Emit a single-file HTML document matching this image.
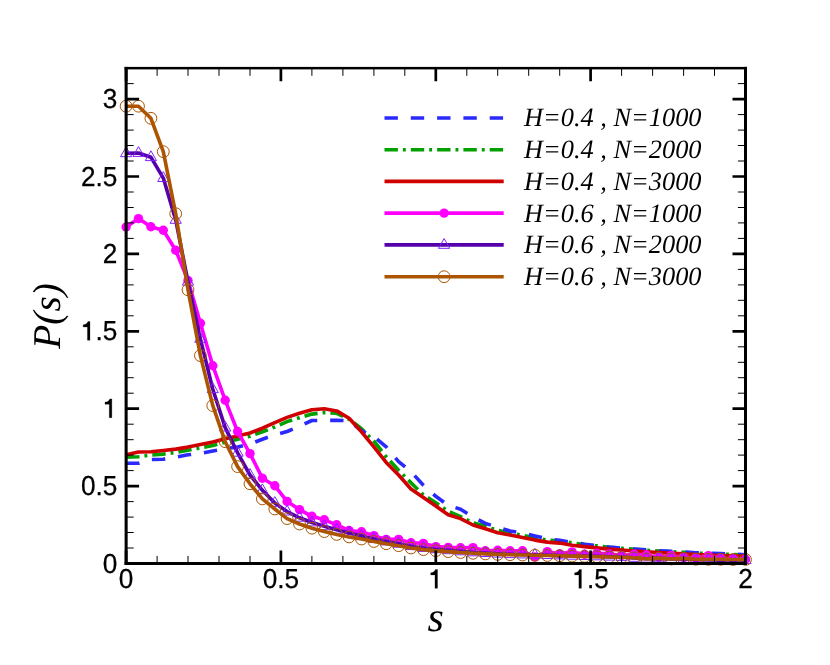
<!DOCTYPE html>
<html><head><meta charset="utf-8"><title>P(s)</title>
<style>html,body{margin:0;padding:0;background:#fff;}body{width:830px;height:665px;overflow:hidden;}svg{display:block;will-change:transform;}text{text-rendering:geometricPrecision;}.t{font-family:"Liberation Sans",sans-serif;font-size:26.2px;fill:#000;stroke:#000;stroke-width:0.25px;}.l{font-family:"Liberation Serif",serif;font-style:italic;font-size:26.5px;fill:#000;}.a{font-family:"Liberation Serif",serif;font-style:italic;font-size:39.3px;fill:#000;}</style></head><body>
<svg width="830" height="665" viewBox="0 0 830 665">
<rect x="0" y="0" width="830" height="665" fill="#ffffff"/>
<defs>
<clipPath id="cp"><rect x="118.1" y="68.2" width="635.4" height="503.4"/></clipPath>
<circle id="md" r="4.7" fill="#ff00ff"/>
<path id="mt" d="M0,-6.4 L5.6,3.4 L-5.6,3.4 Z" fill="none" stroke="#8020ff" stroke-width="1"/>
<circle id="mc" r="5.9" fill="none" stroke="#ac5400" stroke-width="1"/>
</defs>
<g fill="none" stroke-linejoin="round" stroke-linecap="butt">
<polyline points="126.1,457.2 138.5,456.7 150.9,455.1 163.3,454.1 175.7,452.5 188.0,450.2 200.4,447.9 212.8,445.4 225.2,442.3 237.6,439.2 250.0,436.3 262.4,431.8 274.8,427.0 287.1,421.6 299.5,417.7 311.9,414.1 324.3,412.6 336.7,413.3 349.1,419.2 361.5,428.7 373.9,441.2 386.2,456.8 398.6,470.2 411.0,482.7 423.4,494.9 435.8,502.7 448.2,511.2 460.6,516.6 473.0,522.8 485.4,526.0 497.7,530.4 510.1,533.0 522.5,535.3 534.9,537.8 547.3,540.0 559.7,540.9 572.1,542.9 584.5,544.5 596.8,545.9 609.2,547.2 621.6,548.3 634.0,549.3 646.4,550.2 658.8,551.0 671.2,551.7 683.6,552.4 695.9,553.0 708.3,553.6 720.7,554.1 733.1,554.5 745.5,555.0" stroke="#00a000" stroke-width="3.6" stroke-dasharray="13.4 5 2.9 5"/>
<polyline points="126.1,463.2 138.5,463.2 150.9,459.5 163.3,459.2 175.7,457.2 188.0,454.8 200.4,453.3 212.8,451.0 225.2,448.6 237.6,447.1 250.0,444.0 262.4,439.2 274.8,434.9 287.1,431.5 299.5,426.2 311.9,420.5 324.3,420.5 336.7,420.3 349.1,420.8 361.5,430.8 373.9,436.6 386.2,446.8 398.6,461.6 411.0,471.7 423.4,485.3 435.8,496.3 448.2,505.3 460.6,509.3 473.0,517.1 485.4,523.4 497.7,527.3 510.1,531.0 522.5,533.0 534.9,535.9 547.3,538.7 559.7,540.4 572.1,542.4 584.5,544.2 596.8,545.5 609.2,547.1 621.6,548.2 634.0,549.1 646.4,549.9 658.8,550.7 671.2,551.4 683.6,552.0 695.9,552.7 708.3,553.3 720.7,553.6 733.1,554.2 745.5,554.7" stroke="#2a2aff" stroke-width="3.6" stroke-dasharray="13.4 12.9"/>
<polyline points="126.1,454.8 138.5,452.0 150.9,451.7 163.3,450.5 175.7,449.1 188.0,447.1 200.4,444.6 212.8,442.0 225.2,438.7 237.6,436.1 250.0,433.0 262.4,428.2 274.8,422.6 287.1,417.4 299.5,413.3 311.9,409.8 324.3,408.7 336.7,410.9 349.1,418.3 361.5,431.8 373.9,446.8 386.2,462.4 398.6,475.0 411.0,489.0 423.4,497.6 435.8,506.1 448.2,514.7 460.6,518.6 473.0,525.0 485.4,528.8 497.7,532.7 510.1,535.0 522.5,537.5 534.9,540.1 547.3,542.1 559.7,543.1 572.1,545.2 584.5,546.6 596.8,547.9 609.2,549.1 621.6,550.0 634.0,551.0 646.4,551.7 658.8,552.5 671.2,553.3 683.6,553.9 695.9,554.5 708.3,555.0 720.7,555.5 733.1,555.9 745.5,556.2" stroke="#d00000" stroke-width="3.6"/>
<polyline points="126.1,227.0 138.5,218.6 150.9,226.7 163.3,230.2 175.7,250.2 188.0,280.5 200.4,323.3 212.8,365.7 225.2,400.3 237.6,431.5 250.0,453.6 262.4,478.2 274.8,485.8 287.1,501.4 299.5,509.6 311.9,516.3 324.3,519.8 336.7,524.8 349.1,530.5 361.5,531.8 373.9,535.6 386.2,539.4 398.6,539.4 411.0,542.8 423.4,543.4 435.8,546.6 448.2,547.4 460.6,547.7 473.0,547.6 485.4,550.8 497.7,550.3 510.1,550.8 522.5,550.8 534.9,557.0 547.3,551.6 559.7,553.9 572.1,551.9 584.5,554.2 596.8,553.3 609.2,553.9 621.6,555.5 634.0,554.2 646.4,555.0 658.8,557.3 671.2,555.5 683.6,557.6 695.9,557.9 708.3,555.6 720.7,558.5 733.1,558.9 745.5,559.2" stroke="#ff00ff" stroke-width="3.6"/>
</g>
<g>
<use href="#md" x="126.1" y="227.0"/>
<use href="#md" x="138.5" y="218.6"/>
<use href="#md" x="150.9" y="226.7"/>
<use href="#md" x="163.3" y="230.2"/>
<use href="#md" x="175.7" y="250.2"/>
<use href="#md" x="188.0" y="280.5"/>
<use href="#md" x="200.4" y="323.3"/>
<use href="#md" x="212.8" y="365.7"/>
<use href="#md" x="225.2" y="400.3"/>
<use href="#md" x="237.6" y="431.5"/>
<use href="#md" x="250.0" y="453.6"/>
<use href="#md" x="262.4" y="478.2"/>
<use href="#md" x="274.8" y="485.8"/>
<use href="#md" x="287.1" y="501.4"/>
<use href="#md" x="299.5" y="509.6"/>
<use href="#md" x="311.9" y="516.3"/>
<use href="#md" x="324.3" y="519.8"/>
<use href="#md" x="336.7" y="524.8"/>
<use href="#md" x="349.1" y="530.5"/>
<use href="#md" x="361.5" y="531.8"/>
<use href="#md" x="373.9" y="535.6"/>
<use href="#md" x="386.2" y="539.4"/>
<use href="#md" x="398.6" y="539.4"/>
<use href="#md" x="411.0" y="542.8"/>
<use href="#md" x="423.4" y="543.4"/>
<use href="#md" x="435.8" y="546.6"/>
<use href="#md" x="448.2" y="547.4"/>
<use href="#md" x="460.6" y="547.7"/>
<use href="#md" x="473.0" y="547.6"/>
<use href="#md" x="485.4" y="550.8"/>
<use href="#md" x="497.7" y="550.3"/>
<use href="#md" x="510.1" y="550.8"/>
<use href="#md" x="522.5" y="550.8"/>
<use href="#md" x="534.9" y="557.0"/>
<use href="#md" x="547.3" y="551.6"/>
<use href="#md" x="559.7" y="553.9"/>
<use href="#md" x="572.1" y="551.9"/>
<use href="#md" x="584.5" y="554.2"/>
<use href="#md" x="596.8" y="553.3"/>
<use href="#md" x="609.2" y="553.9"/>
<use href="#md" x="621.6" y="555.5"/>
<use href="#md" x="634.0" y="554.2"/>
<use href="#md" x="646.4" y="555.0"/>
<use href="#md" x="658.8" y="557.3"/>
<use href="#md" x="671.2" y="555.5"/>
<use href="#md" x="683.6" y="557.6"/>
<use href="#md" x="695.9" y="557.9"/>
<use href="#md" x="708.3" y="555.6"/>
<use href="#md" x="720.7" y="558.5"/>
<use href="#md" x="733.1" y="558.9"/>
<use href="#md" x="745.5" y="559.2"/>
</g>
<polyline points="126.1,153.3 138.5,153.0 150.9,157.2 163.3,178.1 175.7,219.9 188.0,281.8 200.4,338.9 212.8,389.2 225.2,427.6 237.6,452.8 250.0,475.0 262.4,490.3 274.8,503.0 287.1,511.6 299.5,517.8 311.9,522.5 324.3,526.3 336.7,529.8 349.1,532.9 361.5,535.9 373.9,539.0 386.2,541.5 398.6,543.8 411.0,546.2 423.4,548.0 435.8,549.3 448.2,550.3 460.6,551.4 473.0,552.4 485.4,553.1 497.7,553.7 510.1,554.2 522.5,554.5 534.9,554.8 547.3,555.1 559.7,555.5 572.1,555.8 584.5,556.1 596.8,556.4 609.2,556.7 621.6,557.0 634.0,557.9 646.4,558.7 658.8,558.4 671.2,559.0 683.6,558.9 695.9,559.8 708.3,559.9 720.7,560.1 733.1,560.1 745.5,560.2" fill="none" stroke-linejoin="round" stroke="#5500aa" stroke-width="3.6"/>
<g>
<use href="#mt" x="126.1" y="153.3"/>
<use href="#mt" x="138.5" y="153.0"/>
<use href="#mt" x="150.9" y="157.2"/>
<use href="#mt" x="163.3" y="178.1"/>
<use href="#mt" x="175.7" y="219.9"/>
<use href="#mt" x="188.0" y="281.8"/>
<use href="#mt" x="200.4" y="338.9"/>
<use href="#mt" x="212.8" y="389.2"/>
<use href="#mt" x="225.2" y="427.6"/>
<use href="#mt" x="237.6" y="452.8"/>
<use href="#mt" x="250.0" y="475.0"/>
<use href="#mt" x="262.4" y="490.3"/>
<use href="#mt" x="274.8" y="503.0"/>
<use href="#mt" x="287.1" y="511.6"/>
<use href="#mt" x="299.5" y="517.8"/>
<use href="#mt" x="311.9" y="522.5"/>
<use href="#mt" x="324.3" y="526.3"/>
<use href="#mt" x="336.7" y="529.8"/>
<use href="#mt" x="349.1" y="532.9"/>
<use href="#mt" x="361.5" y="535.9"/>
<use href="#mt" x="373.9" y="539.0"/>
<use href="#mt" x="386.2" y="541.5"/>
<use href="#mt" x="398.6" y="543.8"/>
<use href="#mt" x="411.0" y="546.2"/>
<use href="#mt" x="423.4" y="548.0"/>
<use href="#mt" x="435.8" y="549.3"/>
<use href="#mt" x="448.2" y="550.3"/>
<use href="#mt" x="460.6" y="551.4"/>
<use href="#mt" x="473.0" y="552.4"/>
<use href="#mt" x="485.4" y="553.1"/>
<use href="#mt" x="497.7" y="553.7"/>
<use href="#mt" x="510.1" y="554.2"/>
<use href="#mt" x="522.5" y="554.5"/>
<use href="#mt" x="534.9" y="554.8"/>
<use href="#mt" x="547.3" y="555.1"/>
<use href="#mt" x="559.7" y="555.5"/>
<use href="#mt" x="572.1" y="555.8"/>
<use href="#mt" x="584.5" y="556.1"/>
<use href="#mt" x="596.8" y="556.4"/>
<use href="#mt" x="609.2" y="556.7"/>
<use href="#mt" x="621.6" y="557.0"/>
<use href="#mt" x="634.0" y="557.9"/>
<use href="#mt" x="646.4" y="558.7"/>
<use href="#mt" x="658.8" y="558.4"/>
<use href="#mt" x="671.2" y="559.0"/>
<use href="#mt" x="683.6" y="558.9"/>
<use href="#mt" x="695.9" y="559.8"/>
<use href="#mt" x="708.3" y="559.9"/>
<use href="#mt" x="720.7" y="560.1"/>
<use href="#mt" x="733.1" y="560.1"/>
<use href="#mt" x="745.5" y="560.2"/>
</g>
<polyline points="126.1,106.2 138.5,106.2 150.9,118.3 163.3,151.7 175.7,213.7 188.0,289.8 200.4,355.6 212.8,405.6 225.2,441.7 237.6,466.6 250.0,483.8 262.4,498.9 274.8,509.0 287.1,518.6 299.5,524.0 311.9,528.2 324.3,531.6 336.7,534.4 349.1,536.9 361.5,539.0 373.9,541.5 386.2,543.7 398.6,545.7 411.0,548.0 423.4,549.6 435.8,550.7 448.2,551.6 460.6,552.5 473.0,553.3 485.4,553.9 497.7,554.4 510.1,554.7 522.5,555.0 534.9,555.3 547.3,555.5 559.7,555.8 572.1,556.1 584.5,556.4 596.8,556.7 609.2,557.0 621.6,557.3 634.0,557.8 646.4,558.9 658.8,558.1 671.2,559.0 683.6,558.4 695.9,559.2 708.3,559.3 720.7,559.3 733.1,559.5 745.5,559.5" fill="none" stroke-linejoin="round" stroke="#ac5400" stroke-width="3.6"/>
<g>
<use href="#mc" x="126.1" y="106.2"/>
<use href="#mc" x="138.5" y="106.2"/>
<use href="#mc" x="150.9" y="118.3"/>
<use href="#mc" x="163.3" y="151.7"/>
<use href="#mc" x="175.7" y="213.7"/>
<use href="#mc" x="188.0" y="289.8"/>
<use href="#mc" x="200.4" y="355.6"/>
<use href="#mc" x="212.8" y="405.6"/>
<use href="#mc" x="225.2" y="441.7"/>
<use href="#mc" x="237.6" y="466.6"/>
<use href="#mc" x="250.0" y="483.8"/>
<use href="#mc" x="262.4" y="498.9"/>
<use href="#mc" x="274.8" y="509.0"/>
<use href="#mc" x="287.1" y="518.6"/>
<use href="#mc" x="299.5" y="524.0"/>
<use href="#mc" x="311.9" y="528.2"/>
<use href="#mc" x="324.3" y="531.6"/>
<use href="#mc" x="336.7" y="534.4"/>
<use href="#mc" x="349.1" y="536.9"/>
<use href="#mc" x="361.5" y="539.0"/>
<use href="#mc" x="373.9" y="541.5"/>
<use href="#mc" x="386.2" y="543.7"/>
<use href="#mc" x="398.6" y="545.7"/>
<use href="#mc" x="411.0" y="548.0"/>
<use href="#mc" x="423.4" y="549.6"/>
<use href="#mc" x="435.8" y="550.7"/>
<use href="#mc" x="448.2" y="551.6"/>
<use href="#mc" x="460.6" y="552.5"/>
<use href="#mc" x="473.0" y="553.3"/>
<use href="#mc" x="485.4" y="553.9"/>
<use href="#mc" x="497.7" y="554.4"/>
<use href="#mc" x="510.1" y="554.7"/>
<use href="#mc" x="522.5" y="555.0"/>
<use href="#mc" x="534.9" y="555.3"/>
<use href="#mc" x="547.3" y="555.5"/>
<use href="#mc" x="559.7" y="555.8"/>
<use href="#mc" x="572.1" y="556.1"/>
<use href="#mc" x="584.5" y="556.4"/>
<use href="#mc" x="596.8" y="556.7"/>
<use href="#mc" x="609.2" y="557.0"/>
<use href="#mc" x="621.6" y="557.3"/>
<use href="#mc" x="634.0" y="557.8"/>
<use href="#mc" x="646.4" y="558.9"/>
<use href="#mc" x="658.8" y="558.1"/>
<use href="#mc" x="671.2" y="559.0"/>
<use href="#mc" x="683.6" y="558.4"/>
<use href="#mc" x="695.9" y="559.2"/>
<use href="#mc" x="708.3" y="559.3"/>
<use href="#mc" x="720.7" y="559.3"/>
<use href="#mc" x="733.1" y="559.5"/>
<use href="#mc" x="745.5" y="559.5"/>
</g>
<g stroke="#000" fill="none">
<path d="M157.1,563.5 v-7.6 M157.1,68.2 v7.6 M188.0,563.5 v-7.6 M188.0,68.2 v7.6 M219.0,563.5 v-7.6 M219.0,68.2 v7.6 M250.0,563.5 v-7.6 M250.0,68.2 v7.6 M311.9,563.5 v-7.6 M311.9,68.2 v7.6 M342.9,563.5 v-7.6 M342.9,68.2 v7.6 M373.9,563.5 v-7.6 M373.9,68.2 v7.6 M404.8,563.5 v-7.6 M404.8,68.2 v7.6 M466.8,563.5 v-7.6 M466.8,68.2 v7.6 M497.7,563.5 v-7.6 M497.7,68.2 v7.6 M528.7,563.5 v-7.6 M528.7,68.2 v7.6 M559.7,563.5 v-7.6 M559.7,68.2 v7.6 M621.6,563.5 v-7.6 M621.6,68.2 v7.6 M652.6,563.5 v-7.6 M652.6,68.2 v7.6 M683.6,563.5 v-7.6 M683.6,68.2 v7.6 M714.5,563.5 v-7.6 M714.5,68.2 v7.6 M126.1,548.0 h7.6 M745.5,548.0 h-7.6 M126.1,532.5 h7.6 M745.5,532.5 h-7.6 M126.1,517.1 h7.6 M745.5,517.1 h-7.6 M126.1,501.6 h7.6 M745.5,501.6 h-7.6 M126.1,470.6 h7.6 M745.5,470.6 h-7.6 M126.1,455.1 h7.6 M745.5,455.1 h-7.6 M126.1,439.7 h7.6 M745.5,439.7 h-7.6 M126.1,424.2 h7.6 M745.5,424.2 h-7.6 M126.1,393.2 h7.6 M745.5,393.2 h-7.6 M126.1,377.7 h7.6 M745.5,377.7 h-7.6 M126.1,362.3 h7.6 M745.5,362.3 h-7.6 M126.1,346.8 h7.6 M745.5,346.8 h-7.6 M126.1,315.8 h7.6 M745.5,315.8 h-7.6 M126.1,300.3 h7.6 M745.5,300.3 h-7.6 M126.1,284.9 h7.6 M745.5,284.9 h-7.6 M126.1,269.4 h7.6 M745.5,269.4 h-7.6 M126.1,238.4 h7.6 M745.5,238.4 h-7.6 M126.1,222.9 h7.6 M745.5,222.9 h-7.6 M126.1,207.5 h7.6 M745.5,207.5 h-7.6 M126.1,192.0 h7.6 M745.5,192.0 h-7.6 M126.1,161.0 h7.6 M745.5,161.0 h-7.6 M126.1,145.5 h7.6 M745.5,145.5 h-7.6 M126.1,130.1 h7.6 M745.5,130.1 h-7.6 M126.1,114.6 h7.6 M745.5,114.6 h-7.6 M126.1,83.6 h7.6 M745.5,83.6 h-7.6 M126.1,68.1 h7.6 M745.5,68.1 h-7.6" stroke-width="1"/>
<path d="M126.1,563.5 v-13 M126.1,68.2 v13 M280.9,563.5 v-13 M280.9,68.2 v13 M435.8,563.5 v-13 M435.8,68.2 v13 M590.6,563.5 v-13 M590.6,68.2 v13 M745.5,563.5 v-13 M745.5,68.2 v13 M126.1,563.5 h13 M745.5,563.5 h-13 M126.1,486.1 h13 M745.5,486.1 h-13 M126.1,408.7 h13 M745.5,408.7 h-13 M126.1,331.3 h13 M745.5,331.3 h-13 M126.1,253.9 h13 M745.5,253.9 h-13 M126.1,176.5 h13 M745.5,176.5 h-13 M126.1,99.1 h13 M745.5,99.1 h-13" stroke-width="2.7"/>
</g>
<g fill="#000">
<rect x="124.6" y="66.9" width="3.05" height="498.1"/>
<rect x="744" y="66.9" width="3" height="498.1"/>
<rect x="124.6" y="66.9" width="622.4" height="2.5"/>
<rect x="124.6" y="562" width="622.4" height="3"/>
</g>
<g class="t">
<g transform="translate(0,588.30) scale(1,1.050)">
<text x="118.82" y="0">0</text>
</g>
<g transform="translate(0,588.30) scale(1,1.050)">
<text x="262.74" y="0">0.5</text>
</g>
<g transform="translate(0,588.30) scale(1,1.050)">
<path d="M437.52,0 H434.97 V-12.76 H430.72 V-14.86 C433.22,-14.96 434.72,-15.90 435.52,-17.90 H437.52 Z" fill="#000"/>
</g>
<g transform="translate(0,588.30) scale(1,1.050)">
<path d="M581.44,0 H578.89 V-12.76 H574.64 V-14.86 C577.14,-14.96 578.64,-15.90 579.44,-17.90 H581.44 Z" fill="#000"/>
<text x="587.01" y="0">.5</text>
</g>
<g transform="translate(0,588.30) scale(1,1.050)">
<text x="738.22" y="0">2</text>
</g>
<g transform="translate(0,572.50) scale(1,1.050)">
<text x="102.83" y="0">0</text>
</g>
<g transform="translate(0,495.10) scale(1,1.050)">
<text x="80.98" y="0">0.5</text>
</g>
<g transform="translate(0,417.70) scale(1,1.050)">
<path d="M111.83,0 H109.28 V-12.76 H105.03 V-14.86 C107.53,-14.96 109.03,-15.90 109.83,-17.90 H111.83 Z" fill="#000"/>
</g>
<g transform="translate(0,340.30) scale(1,1.050)">
<path d="M89.98,0 H87.43 V-12.76 H83.18 V-14.86 C85.68,-14.96 87.18,-15.90 87.98,-17.90 H89.98 Z" fill="#000"/>
<text x="95.55" y="0">.5</text>
</g>
<g transform="translate(0,262.91) scale(1,1.050)">
<text x="102.83" y="0">2</text>
</g>
<g transform="translate(0,185.51) scale(1,1.050)">
<text x="80.98" y="0">2.5</text>
</g>
<g transform="translate(0,108.11) scale(1,1.050)">
<text x="102.83" y="0">3</text>
</g>
</g>
<text class="a" style="font-size:42px" text-anchor="middle" x="435.8" y="631">s</text>
<text class="a" text-anchor="middle" transform="translate(60,315.9) rotate(-90)">P(s)</text>
<g fill="none">
<path d="M384.5,118.0 H503.7" stroke="#2a2aff" stroke-width="3.6" stroke-dasharray="13.4 12.9"/>
<path d="M384.5,149.8 H503.7" stroke="#00a000" stroke-width="3.6" stroke-dasharray="13.4 5 2.9 5"/>
<path d="M384.5,181.4 H503.7" stroke="#d00000" stroke-width="3.6"/>
<path d="M384.5,213.1 H503.7" stroke="#ff00ff" stroke-width="3.6"/>
<path d="M384.5,244.9 H503.7" stroke="#5500aa" stroke-width="3.6"/>
<path d="M384.5,276.7 H503.7" stroke="#ac5400" stroke-width="3.6"/>
</g>
<use href="#md" x="444.1" y="213.1"/>
<use href="#mt" x="444.1" y="244.9"/>
<use href="#mc" x="444.1" y="276.7"/>
<g class="l">
<text x="524" y="126.4" textLength="177.5" lengthAdjust="spacingAndGlyphs">H=0.4 , N=1000</text>
<text x="524" y="158.2" textLength="177.5" lengthAdjust="spacingAndGlyphs">H=0.4 , N=2000</text>
<text x="524" y="189.8" textLength="177.5" lengthAdjust="spacingAndGlyphs">H=0.4 , N=3000</text>
<text x="524" y="221.5" textLength="177.5" lengthAdjust="spacingAndGlyphs">H=0.6 , N=1000</text>
<text x="524" y="253.3" textLength="177.5" lengthAdjust="spacingAndGlyphs">H=0.6 , N=2000</text>
<text x="524" y="285.1" textLength="177.5" lengthAdjust="spacingAndGlyphs">H=0.6 , N=3000</text>
</g>
</svg>
</body></html>
